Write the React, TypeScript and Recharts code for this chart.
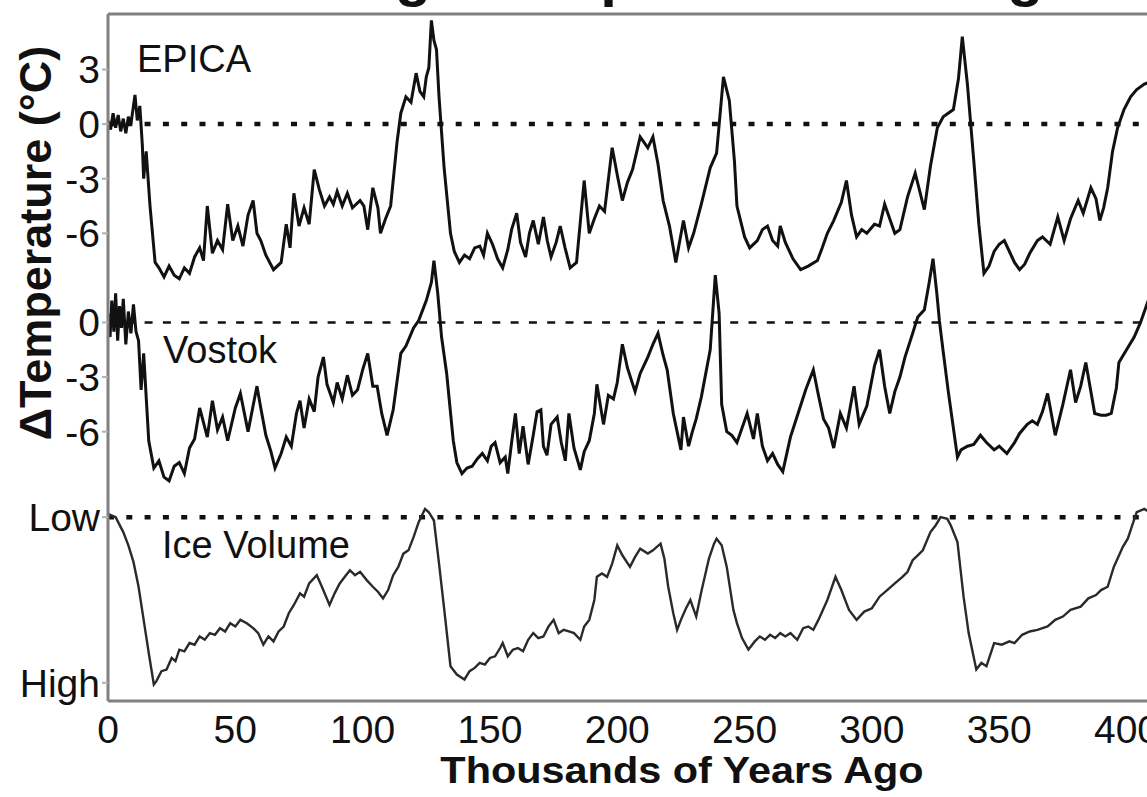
import React from 'react';
import { LineChart, Line, XAxis, YAxis, ReferenceLine, ReferenceDot } from 'recharts';

const FONT = '"Liberation Sans", Arial, Helvetica, sans-serif';

// [thousands of years ago, temperature change °C]
const epica: [number, number][] = [
  [0, 0.2], [1, -0.3], [2, 0.6], [3, -0.2], [4, 0.5], [5, -0.4], [6, 0.3], [7, -0.5], [8, 0.4], [9, 0.0],
  [10, 1.0], [10.6, 1.6], [11.5, 0.2], [12.5, 1.0], [13.5, -1.2], [14, -3.0], [15, -1.5], [16.5, -4.5],
  [18.5, -7.6], [20, -7.9], [22, -8.4], [24, -7.8], [26, -8.3], [28, -8.5], [30, -7.9], [32, -8.2],
  [34, -7.3], [36, -6.8], [37.5, -7.5], [39, -4.5], [41, -7.1], [43, -6.4], [45, -6.9], [47, -4.4],
  [49, -6.4], [51, -5.6], [53, -6.7], [55, -5.0], [57, -4.2], [58.5, -6.0], [60, -6.4], [62, -7.2],
  [65, -8.0], [68, -7.6], [70, -5.5], [71.5, -6.8], [73, -3.8], [75, -5.6], [77, -4.6], [79, -5.5],
  [81, -2.5], [83, -3.6], [85, -4.5], [87, -4.0], [88.5, -4.4], [90, -3.7], [92, -4.5], [94, -3.8],
  [96, -4.6], [99, -4.2], [100.5, -4.5], [102, -5.8], [104, -3.5], [106, -4.6], [107, -6.0], [109, -5.2],
  [111, -4.5], [113.5, -1.0], [115, 0.6], [117, 1.5], [119, 1.2], [121, 2.8], [122.5, 1.8], [124, 1.5],
  [125, 2.6], [126, 3.1], [127, 5.7], [128, 4.6], [129, 4.1], [130, 1.5], [132, -2.4], [134.5, -6.0],
  [136, -7.0], [138, -7.6], [140, -7.2], [142, -7.4], [144, -6.8], [146, -6.7], [147.5, -7.2], [149, -6.0],
  [151, -6.6], [153, -7.4], [155, -7.9], [157, -6.9], [158.5, -5.8], [160.5, -4.9], [162, -6.5], [164, -7.3],
  [165.5, -6.0], [167, -5.3], [169, -6.6], [171, -5.1], [172.5, -6.4], [174, -7.3], [176, -6.5], [177.6, -5.6],
  [179.5, -6.8], [181.5, -7.9], [184, -7.6], [187, -3.1], [189, -6.0], [191, -5.2], [193, -4.5], [195, -4.8],
  [198, -1.3], [200, -2.8], [202, -4.2], [204, -3.2], [206, -2.5], [209, -0.7], [212, -1.3], [214, -0.7],
  [216, -2.2], [218, -4.2], [220.5, -5.6], [223, -7.6], [226, -5.3], [228, -6.8], [230, -6.0], [233, -4.4],
  [236.5, -2.4], [239, -1.6], [241.7, 2.6], [244, 1.3], [246, -2.0], [247, -4.5], [250, -6.2], [252, -6.8],
  [255, -6.4], [257, -5.8], [259, -5.6], [261, -6.4], [263, -6.7], [264, -5.6], [266, -6.5], [269, -7.4],
  [272, -8.0], [275, -7.8], [278.6, -7.5], [280.5, -6.8], [282.5, -6.0], [285, -5.3], [288, -4.3], [290, -3.1],
  [292, -5.0], [294, -6.2], [296, -5.8], [298, -6.0], [301, -5.5], [303, -5.6], [305, -4.4], [307, -5.2],
  [309, -6.0], [311, -5.8], [314, -4.0], [317, -2.7], [319, -3.8], [320.6, -4.7], [323, -2.3], [325.7, -0.2],
  [328, 0.4], [332, 0.8], [334, 2.5], [335.5, 4.8], [337.5, 2.2], [340, -2.0], [342, -5.5], [344, -8.2],
  [346, -7.8], [348, -7.0], [350, -6.6], [352, -6.4], [354, -7.0], [356, -7.6], [358, -8.0], [360, -7.7],
  [362, -7.1], [365, -6.4], [367, -6.2], [370, -6.6], [373, -5.1], [375.5, -6.4], [378, -5.2], [381, -4.2],
  [383, -4.9], [386, -3.5], [388, -4.1], [389.5, -5.3], [391, -4.6], [392.6, -3.5], [394.5, -1.5], [396.5, -0.2],
  [399, 0.8], [401.6, 1.5], [404, 1.9], [407, 2.2], [409, 2.3],
];

const vostok: [number, number][] = [
  [0, 0.5], [0.8, -0.8], [1.5, 1.2], [2.3, -0.5], [3, 1.6], [3.8, -1.0], [4.5, 0.9], [5.3, -0.3], [6, 1.3],
  [7, -1.2], [8, 0.6], [9, -0.6], [10, 1.0], [11, -0.5], [12, -1.0], [13, -3.7], [14, -1.7], [16, -6.5],
  [18, -8.0], [20, -7.6], [22, -8.5], [24, -8.7], [26, -7.9], [28, -7.7], [30, -8.3], [32, -6.9], [34, -6.4],
  [36, -4.7], [39, -6.3], [41, -4.3], [43, -5.9], [45, -5.2], [47, -6.5], [50, -4.7], [52, -3.9], [55, -6.0],
  [58.5, -3.5], [60, -4.7], [62, -6.2], [64, -7.1], [65.6, -8.0], [68, -7.2], [70, -6.3], [72, -6.8], [74, -5.0],
  [75.4, -4.3], [77, -5.8], [79, -4.2], [81, -4.9], [82.5, -3.0], [84.6, -1.9], [86, -3.4], [88.5, -4.4],
  [90, -3.3], [92, -4.2], [94, -2.9], [96, -4.0], [98, -3.7], [100, -2.6], [102, -1.7], [104, -3.5],
  [105.7, -3.5], [107.5, -5.0], [109.6, -6.2], [112, -4.8], [115, -1.7], [117, -1.3], [120, -0.3], [122, 0.1],
  [125, 1.2], [127, 2.2], [128, 3.4], [129.5, 1.6], [131, -0.8], [133, -2.8], [135.6, -6.5], [137, -7.7],
  [139, -8.3], [141, -8.0], [143, -7.9], [145, -7.5], [147, -7.2], [149, -7.6], [150.5, -6.8], [152, -6.6],
  [154, -7.7], [156, -7.4], [157, -8.3], [158.5, -6.6], [160, -5.0], [161.5, -7.2], [163, -5.7], [165, -7.8],
  [167, -6.2], [168.5, -4.9], [170, -4.8], [171, -6.8], [172.4, -7.3], [174, -5.6], [176.4, -5.2], [178, -6.6],
  [179.6, -7.6], [181, -5.0], [183, -6.9], [185.5, -8.1], [187, -7.1], [189, -6.5], [191, -5.0], [192, -3.4],
  [194.6, -5.6], [196.5, -4.0], [198.5, -4.2], [200, -3.3], [202, -1.2], [204, -2.5], [207, -3.8], [209, -2.8],
  [212, -1.9], [214, -1.2], [216, -0.6], [218, -1.8], [219.6, -2.6], [222, -5.0], [225, -7.0], [226, -5.2],
  [228, -6.8], [229.5, -6.0], [231, -5.3], [233, -4.1], [236.5, -1.5], [238.5, 2.6], [240, 0.5], [241, -4.5],
  [243, -6.0], [245, -6.2], [247, -6.6], [249, -5.8], [251, -5.0], [253.5, -6.4], [255, -5.0], [257, -6.8],
  [259, -7.6], [261, -7.2], [263, -7.8], [265, -8.2], [268, -6.3], [271, -5.0], [274, -3.7], [277, -2.6],
  [279, -4.0], [281, -5.3], [283, -5.8], [285, -6.9], [287.6, -5.0], [290, -5.8], [293, -3.5], [295, -5.6],
  [298, -4.6], [301, -2.4], [303, -1.5], [305, -3.5], [307, -5.0], [309, -3.8], [311, -3.0], [313, -1.9],
  [316, -0.6], [318, 0.3], [320.6, 0.7], [322.5, 2.2], [324, 3.5], [325.5, 1.6], [326.5, 0.1], [328, -1.6],
  [330, -3.8], [333.6, -7.4], [335, -7.0], [337.5, -6.8], [340, -6.7], [342.6, -6.2], [345, -6.6], [348, -7.0],
  [350, -6.8], [353, -7.2], [356, -6.6], [358, -6.1], [361, -5.6], [363, -5.4], [365, -5.6], [367, -4.9],
  [369, -3.9], [372, -6.2], [375, -4.5], [378, -2.6], [380, -4.4], [382, -3.5], [384, -2.2], [387.5, -5.0],
  [390, -5.1], [392, -5.1], [394, -5.0], [396, -3.6], [397, -2.2], [400, -1.5], [403, -0.8], [405.5, 0.0],
  [407.5, 0.8], [409, 1.4],
];

// [thousands of years ago, relative ice volume: 0 = Low, 1 = High]
const iceVolume: [number, number][] = [
  [0, -0.02], [3, 0.0], [6, 0.09], [8, 0.17], [10, 0.27], [12, 0.42], [14, 0.62], [16, 0.82], [18, 1.01],
  [19, 0.99], [21, 0.93], [23, 0.92], [25, 0.85], [26.5, 0.87], [28, 0.8], [30, 0.81], [32, 0.76], [34, 0.77],
  [36, 0.72], [38, 0.74], [40, 0.7], [42, 0.71], [44, 0.67], [46, 0.69], [48, 0.64], [50, 0.66], [52, 0.62],
  [54.5, 0.64], [57, 0.67], [59, 0.7], [61, 0.77], [63, 0.72], [65, 0.75], [67, 0.69], [69, 0.66], [71, 0.58],
  [73, 0.53], [75.4, 0.46], [77, 0.48], [79, 0.4], [82, 0.35], [84, 0.42], [87, 0.53], [89, 0.46], [91, 0.4],
  [93, 0.36], [95, 0.32], [97, 0.35], [99, 0.33], [101.6, 0.38], [104, 0.42], [106, 0.45], [108, 0.49],
  [110, 0.44], [112, 0.35], [114, 0.3], [116, 0.22], [118, 0.2], [120, 0.12], [122, 0.03], [124.5, -0.05],
  [126, -0.03], [128, 0.02], [130, 0.28], [132, 0.55], [134.5, 0.9], [137, 0.95], [140, 0.98], [142, 0.93],
  [144, 0.91], [146, 0.88], [148, 0.89], [150, 0.85], [152, 0.84], [154, 0.79], [155, 0.76], [157, 0.84],
  [159, 0.8], [161, 0.79], [163, 0.81], [165, 0.74], [167, 0.7], [169, 0.73], [171, 0.72], [173, 0.66],
  [175, 0.62], [177, 0.7], [179, 0.68], [181, 0.69], [183, 0.7], [185.5, 0.74], [187, 0.66], [189, 0.62],
  [191, 0.5], [192, 0.36], [194, 0.34], [196, 0.36], [198, 0.28], [200, 0.17], [202, 0.23], [205, 0.3],
  [207, 0.24], [209, 0.19], [212, 0.22], [214, 0.2], [217, 0.16], [218.5, 0.25], [220, 0.42], [222, 0.58],
  [223.5, 0.68], [225, 0.62], [227, 0.55], [228.7, 0.5], [231, 0.6], [233, 0.45], [236, 0.25], [238, 0.16],
  [239, 0.13], [241, 0.17], [243, 0.3], [245.6, 0.56], [247, 0.64], [249, 0.73], [251.5, 0.8], [254, 0.75],
  [256, 0.72], [258, 0.74], [260, 0.71], [262, 0.73], [264, 0.7], [266, 0.72], [268, 0.7], [270.7, 0.74],
  [273, 0.67], [275, 0.66], [277, 0.68], [279, 0.62], [282.5, 0.5], [285.7, 0.36], [288, 0.44], [291, 0.56],
  [294, 0.62], [297, 0.57], [300, 0.55], [303, 0.48], [306, 0.44], [309, 0.4], [312, 0.36], [314, 0.33],
  [316, 0.26], [318, 0.23], [320, 0.2], [323, 0.09], [325, 0.05], [327, 0.0], [329.6, 0.01], [331, 0.05],
  [333.6, 0.15], [336, 0.48], [338, 0.7], [341, 0.92], [343, 0.88], [345, 0.9], [348, 0.76], [351, 0.77],
  [354, 0.75], [356, 0.76], [359, 0.71], [362, 0.69], [365, 0.68], [369, 0.66], [372, 0.62], [375, 0.6],
  [378, 0.56], [382, 0.54], [385, 0.49], [388, 0.47], [390, 0.44], [392.6, 0.42], [395, 0.3], [396.5, 0.25],
  [398.5, 0.18], [400.5, 0.13], [402, 0.06], [404, -0.03], [407, -0.05], [409, -0.03],
];

const xTicks = [0, 50, 100, 150, 200, 250, 300, 350, 400];
const epicaTicks = [3, 0, -3, -6];
const vostokTicks = [0, -3, -6];
const iceTickLabels = ['Low', 'High'];

// the three panels share one y axis, measured in EPICA °C
const VOSTOK_SHIFT = -10.9;
const ICE_LOW = -21.6;
const ICE_HIGH = -30.7;

const epicaRows = epica.map(([kyr, t]) => ({ kyr, y: t }));
const vostokRows = vostok.map(([kyr, t]) => ({ kyr, y: t + VOSTOK_SHIFT }));
const iceRows = iceVolume.map(([kyr, v]) => ({ kyr, y: ICE_LOW + v * (ICE_HIGH - ICE_LOW) }));

const yTicks = [...epicaTicks, ...vostokTicks.map((t) => t + VOSTOK_SHIFT), ICE_LOW, ICE_HIGH];
const yTickLabels = [...epicaTicks.map(String), ...vostokTicks.map(String), ...iceTickLabels];

const yLabel = (v: number) => {
  const i = yTicks.findIndex((t) => Math.abs(t - v) < 1e-6);
  return i >= 0 ? yTickLabels[i] : '';
};

const panelLabels = [
  { text: 'EPICA', kyr: 11.4, y: 3.6 },
  { text: 'Vostok', kyr: 21.6, y: -12.4 },
  { text: 'Ice Volume', kyr: 21.2, y: -23.1 },
];

const axisStroke = { stroke: '#808080', strokeWidth: 3 };
const tickStroke = { stroke: '#8a8a8a', strokeWidth: 2 };

// title sits mostly above the picture; only its descenders show
const Title = (props: any) => {
  const { viewBox } = props;
  return (
    <text x={viewBox.x + 574} y={-5} textAnchor="middle" fontSize={60} fontWeight="bold"
      fontFamily={FONT} fill="#111">
      Ice Age Temperature Changes
    </text>
  );
};

const XTitle = (props: any) => {
  const { viewBox } = props;
  return (
    <text transform={`translate(${viewBox.x + 574}, 783) scale(1.12, 1)`} textAnchor="middle"
      fontSize={37} fontWeight="bold" fontFamily={FONT} fill="#111">
      Thousands of Years Ago
    </text>
  );
};

const YTitle = () => (
  <text x={35} y={243} transform="rotate(-90, 35, 243)" textAnchor="middle" dominantBaseline="central"
    fontSize={45} fontWeight="bold" fontFamily={FONT} fill="#111">
    ΔTemperature (°C)
  </text>
);

const App: React.FC = () => {
  return (
    <div style={{ position: 'absolute', left: 0, top: 0, width: 1147, height: 797, overflow: 'hidden', background: '#fff' }}>
      <LineChart width={1160} height={797} margin={{ top: 14, right: 8, left: 0, bottom: 0 }}
        style={{ position: 'absolute', left: 0, top: 0 }}>
        <XAxis dataKey="kyr" type="number" domain={[0, 410]} ticks={xTicks} interval={0} allowDataOverflow
          height={96} tickLine={false} tickSize={0} tickMargin={14} axisLine={axisStroke}
          tick={{ fontSize: 39, fill: '#111', fontFamily: FONT }} label={XTitle} />
        <XAxis xAxisId="top" orientation="top" mirror type="number" domain={[0, 410]} ticks={xTicks} interval={0}
          allowDataOverflow tickSize={10} tickFormatter={() => ''} tickLine={tickStroke} axisLine={axisStroke}
          label={Title} />
        <XAxis xAxisId="inner" orientation="bottom" mirror type="number" domain={[0, 410]} ticks={xTicks} interval={0}
          allowDataOverflow tickSize={10} tickFormatter={() => ''} tickLine={tickStroke} axisLine={false} />
        <YAxis type="number" domain={[-31.7, 6.05]} ticks={yTicks} interval={0} allowDataOverflow width={108}
          tickSize={6} tickMargin={2} tickLine={{ stroke: '#b0b0b0', strokeWidth: 2 }} axisLine={axisStroke}
          tickFormatter={yLabel} tick={{ fontSize: 39, fill: '#111', fontFamily: FONT }} label={YTitle} />

        <ReferenceLine y={0} stroke="#111" strokeWidth={4.5} strokeDasharray="6 12.3" />
        <ReferenceLine y={VOSTOK_SHIFT} stroke="#111" strokeWidth={2.5} strokeDasharray="8 10.3" />
        <ReferenceLine y={ICE_LOW} stroke="#111" strokeWidth={4.5} strokeDasharray="6 12.3" />

        <Line data={epicaRows} dataKey="y" type="linear" stroke="#111" strokeWidth={3} dot={false} isAnimationActive={false} />
        <Line data={vostokRows} dataKey="y" type="linear" stroke="#111" strokeWidth={3} dot={false} isAnimationActive={false} />
        <Line data={iceRows} dataKey="y" type="linear" stroke="#2a2a2a" strokeWidth={2.4} dot={false} isAnimationActive={false} />

        {panelLabels.map((p) => (
          <ReferenceDot key={p.text} x={p.kyr} y={p.y} r={0} fill="none" stroke="none"
            label={{ value: p.text, position: 'right', offset: 0, fontSize: 38, fill: '#111', fontFamily: FONT }} />
        ))}
      </LineChart>
    </div>
  );
};

export default App;
